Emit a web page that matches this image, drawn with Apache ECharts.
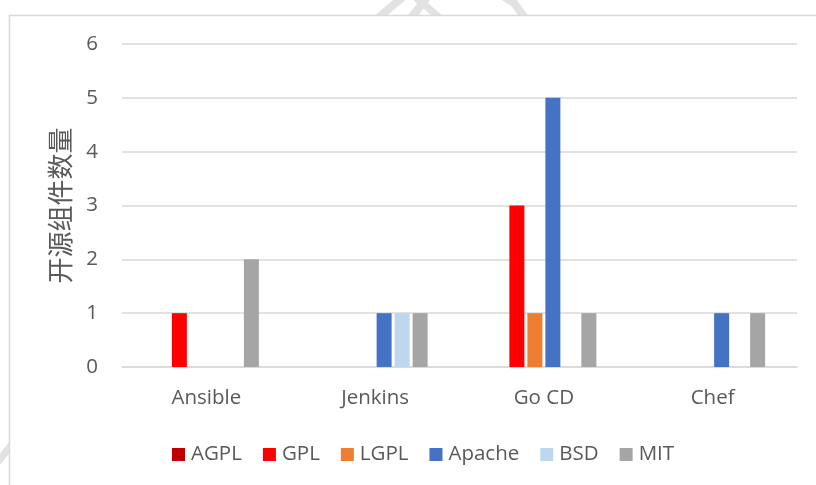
<!DOCTYPE html>
<html>
<head>
<meta charset="utf-8">
<script src="https://cdn.jsdelivr.net/npm/echarts@6/dist/echarts.min.js"></script>
<style>
html,body{margin:0;padding:0;background:#fff;}
#chart{width:816px;height:485px;}
</style>
</head>
<body>
<div id="chart"></div>
<script>
const categories = ['Ansible', 'Jenkins', 'Go CD', 'Chef'];
const seriesNames = ['AGPL', 'GPL', 'LGPL', 'Apache', 'BSD', 'MIT'];
const agpl   = [0, 0, 0, 0];
const gpl    = [1, 0, 3, 0];
const lgpl   = [0, 0, 1, 0];
const apache = [0, 1, 5, 1];
const bsd    = [0, 1, 0, 0];
const mit    = [2, 1, 1, 1];
const yTicks = [0, 1, 2, 3, 4, 5, 6];
const yAxisName = '开源组件数量';

const seriesData = [agpl, gpl, lgpl, apache, bsd, mit];
const colors = ['#C00000', '#FF0000', '#ED7D31', '#4472C4', '#BDD7EE', '#A5A5A5'];
const font = "'Open Sans', 'Noto Sans', sans-serif";

const chart = echarts.init(document.getElementById('chart'), null, {renderer: 'canvas'});

const wm = '#e2e2e2';
const option = {
  animation: false,
  backgroundColor: '#fff',
  graphic: [
    {type: 'polyline', z: -20, shape: {points: [[378, 18], [404, -4]]}, style: {stroke: wm, lineWidth: 8, fill: null}},
    {type: 'polyline', z: -20, shape: {points: [[411, 18], [428, -4]]}, style: {stroke: wm, lineWidth: 8, fill: null}},
    {type: 'polyline', z: -20, shape: {points: [[414, -4], [440, 18]]}, style: {stroke: wm, lineWidth: 7, fill: null}},
    {type: 'polyline', z: -20, shape: {points: [[503, -4], [514, 3], [525, 18]]}, style: {stroke: wm, lineWidth: 8, fill: null}},
    {type: 'polyline', z: -20, shape: {points: [[-2, 462], [12, 444]]}, style: {stroke: wm, lineWidth: 7, fill: null}},
    {type: 'rect', z: -10, shape: {x: 9.5, y: 15.5, width: 830, height: 490}, style: {fill: '#fff', stroke: '#d9d9d9', lineWidth: 1.5}}
  ],
  color: colors,
  grid: {left: 122, right: 19, top: 44, bottom: 118, containLabel: false},
  legend: {
    data: seriesNames,
    left: 167,
    top: 439,
    icon: 'rect',
    itemWidth: 13,
    itemHeight: 13,
    itemGap: 21,
    textStyle: {fontFamily: font, fontSize: 20.5, color: '#595959', padding: [0, 0, 0, 1]}
  },
  xAxis: {
    type: 'category',
    data: categories,
    axisLine: {show: true, lineStyle: {color: '#d9d9d9', width: 1.5}},
    axisTick: {show: false},
    axisLabel: {fontFamily: font, fontSize: 20.5, color: '#595959', margin: 21}
  },
  yAxis: {
    type: 'value',
    min: yTicks[0],
    max: yTicks[yTicks.length - 1],
    interval: 1,
    name: yAxisName,
    nameLocation: 'middle',
    nameRotate: 90,
    nameGap: 49,
    nameTextStyle: {fontFamily: "'Noto Sans CJK SC', sans-serif", fontSize: 26, color: '#595959'},
    axisLine: {show: false},
    axisTick: {show: false},
    axisLabel: {fontFamily: font, fontSize: 20.5, color: '#595959', margin: 24},
    splitLine: {lineStyle: {color: '#d9d9d9', width: 1.5}}
  },
  series: seriesNames.map((name, i) => ({
    name: name,
    type: 'bar',
    data: seriesData[i],
    barWidth: 15,
    barGap: '20%',
    itemStyle: {color: colors[i]}
  }))
};
chart.setOption(option);
</script>
</body>
</html>
